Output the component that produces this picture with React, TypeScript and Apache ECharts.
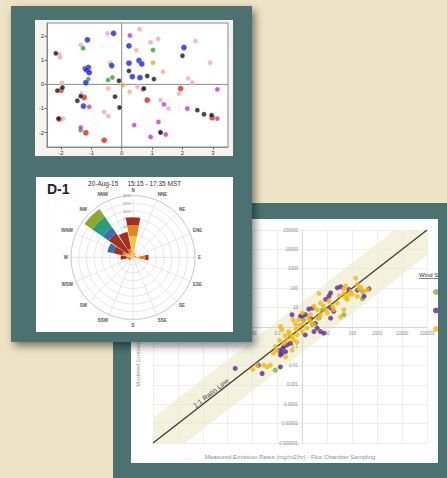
import { useEffect, useRef } from "react";
import * as echarts from "echarts";

const FONT = "'Liberation Sans', Arial, sans-serif";
const TEAL = "#4b7270";
const BEIGE = "#efe3c6";

// ---------- Panel 1: ordination scatter ----------
const pcaXTicks = [-2, -1, 0, 1, 2, 3];
const pcaYTicks = [-2, -1, 0, 1, 2];
const pcaXRange = [-2.46, 3.5];
const pcaYRange = [-2.6, 2.55];

const pcaBlue = [[-0.27, 2.12], [-1.13, 1.85], [0.24, 1.6], [2.05, 1.53], [-1.2, 0.65], [-1.1, 0.7], [-1.15, 0.6], [-1.07, 0.49], [0.24, 0.88], [0.57, 0.99], [0.66, 0.85], [-0.33, 0.78], [0.35, 0.32], [0.6, 0.28], [-1.18, 0.07], [-1.26, -0.9]];
const pcaBlack = [[-2.17, 1.29], [2.0, 1.19], [1.06, 0.22], [0.84, 0.35], [0.24, 0.56], [-0.09, 0.15], [-2.12, -0.26], [-1.95, -0.13], [-1.46, -0.68], [-1.35, -0.49], [-0.22, -0.51], [-0.07, -0.96], [0.73, -0.17], [1.28, -2.0], [2.49, -1.07], [2.71, -1.24], [2.96, -1.28], [-2.08, -1.42]];
const pcaRed = [[-2.0, -0.24], [-1.24, -0.54], [0.84, -0.65], [1.94, -0.17], [2.98, -1.38], [-2.06, -1.44], [-1.18, -2.01], [-0.58, -2.32]];
const pcaPink = [[-0.47, 2.12], [0.59, 2.29], [-1.35, 1.64], [-2.06, 1.25], [-2.03, 1.12], [0.95, 1.75], [1.2, 1.89], [2.43, 1.8], [0.48, 1.43], [-0.38, 0.9], [1.36, 0.53], [2.19, 0.25], [2.32, 0.08], [2.91, 0.9], [-1.97, 0.07], [-0.44, -0.17], [0.26, -0.31], [0.52, -0.1], [-1.32, -0.38], [-0.58, -1.14], [-0.44, -1.32], [-1.93, -1.42], [1.89, -0.38], [1.54, -1.0], [1.28, -0.65]];
const pcaMagenta = [[0.27, 2.03], [-1.07, -0.93], [-1.35, -1.79], [0.41, -1.69], [0.95, -2.18], [1.21, -1.56], [1.39, -0.83], [1.45, -2.08], [2.16, -1.0], [3.15, -0.21], [3.15, -1.42], [1.27, -1.97], [0.7, -0.21]];
const pcaGreen = [[-1.27, 1.5], [1.03, 1.43], [-0.45, 0.18], [-0.31, 0.29], [-1.1, 0.22], [-1.35, -1.9]];
const pcaOrange = [[1.03, 0.9], [0.04, -0.03]];

// ---------- Panel 2: wind rose ----------
const roseTitle = "D-1";
const roseSubtitle = "20-Aug-15     15:15 - 17:35 MST";
const directions = ["N", "NNE", "NE", "ENE", "E", "ESE", "SE", "SSE", "S", "SSW", "SW", "WSW", "W", "WNW", "NW", "NNW"];
const directionAngles = [0, 22.5, 45, 67.5, 90, 112.5, 135, 157.5, 180, 202.5, 225, 247.5, 270, 292.5, 315, 337.5];
const speedClasses = ["0.5-1.5 m/s", "1.5-2.5 m/s", "2.5-3.5 m/s", "3.5-4.5 m/s", "4.5-5.5 m/s", ">5.5 m/s"];
const windYellow = [14, 2, 1, 1, 4, 0.5, 0, 0, 0.5, 0, 0, 1, 2, 5, 2, 3];
const windOrange = [7, 1, 0.5, 1, 4, 0, 0, 0, 0.5, 0, 0, 1, 2, 2, 2, 3];
const windRed = [5, 0, 0, 0, 2, 0, 0, 0, 0, 0, 0, 1, 4, 6, 15, 11];
const windBlue = [0, 0, 0, 0, 0, 0, 0, 0, 0, 0, 0, 0, 0, 4, 5, 0];
const windTeal = [0, 0, 0, 0, 0, 0, 0, 0, 0, 0, 0, 0, 0, 0, 8, 0];
const windOlive = [0, 0, 0, 0, 0, 0, 0, 0, 0, 0, 0, 0, 0, 0, 6, 0];
const windColors = ["#f1c23e", "#e8811e", "#a3301f", "#3b6fb5", "#25a07b", "#8ea82c"];
const roseMax = 40;
const roseStep = 5;

// ---------- Panel 3: modeled vs measured (log-log) ----------
const logMin = 1e-6;
const logMax = 1e5;
const logDecades = [1e-6, 1e-5, 1e-4, 1e-3, 1e-2, 1e-1, 1, 10, 100, 1000, 10000, 100000];
const ratioLine = [[1e-6, 1e-6], [1e5, 1e5]];
const ratioBand = [[1e-6, 1e-6], [1e-6, 2e-5], [5e3, 1e5], [1e5, 1e5], [1e5, 5e3], [2e-5, 1e-6]];
const windSpeedGroups = ["< 2 m/s", "2 - 4 m/s", "> 4 m/s"];

const fluxGold = [[138, 330], [4.6, 52], [46, 91], [87, 69], [186, 91], [295, 69], [405, 85], [160, 38], [54, 31], [100, 47], [63, 26], [25, 17], [11.5, 21], [5.3, 17], [18, 7.7], [46, 7.7], [34, 3.2], [9.8, 5.1], [3.9, 2.8], [2.1, 4.2], [0.98, 5.1], [0.71, 2.3], [0.42, 2.3], [0.52, 1.4], [1.1, 1.5], [2.1, 1.9], [2.9, 1.3], [1.5, 0.85], [0.98, 0.57], [0.61, 0.38], [0.38, 0.32], [0.24, 0.21], [0.18, 0.14], [0.081, 0.095], [0.069, 0.043], [0.15, 0.69], [0.13, 1.04], [0.28, 0.57], [0.45, 0.21], [0.38, 0.063], [0.21, 0.028], [3.9, 7.7], [5.3, 4.2], [2.9, 11.5], [8.5, 7.7], [160, 155], [54, 126], [46, 52], [16, 11.5], [0.028, 0.0105], [0.038, 0.0085], [0.051, 0.0105], [0.015, 0.0105], [0.01, 0.0063], [0.3, 0.45], [0.55, 0.75], [0.8, 1.2], [1.8, 2.6], [0.2, 0.35], [0.12, 0.2], [7, 12], [30, 40], [70, 45], [220, 110], [0.6, 0.16], [0.09, 0.06]];
const fluxPurple = [[34, 117], [25, 103], [13.5, 56], [11.5, 38], [8.5, 26], [2.5, 9.3], [1.8, 8.3], [1.3, 4.2], [0.98, 3.7], [0.83, 3.5], [0.38, 4.2], [2.1, 2.8], [3.3, 1.5], [3.9, 0.85], [5.3, 0.57], [7.2, 0.47], [2.9, 0.57], [1.3, 0.38], [13.5, 9.3], [18, 6.3], [74, 85], [160, 78], [470, 91], [295, 38], [0.18, 0.095], [0.15, 0.043], [0.21, 0.052], [0.24, 0.115], [0.33, 0.14], [0.13, 0.035], [0.024, 0.0039], [0.017, 0.0105], [0.13, 0.0085], [0.002, 0.0071], [13.5, 2.8], [0.12, 0.06], [0.16, 0.075]];
const fluxGreen = [[255, 69], [255, 27.5], [6.2, 7.1], [1.1, 2.3], [2.5, 1.3], [0.33, 0.32], [0.081, 0.0058], [46, 4.2], [4.6, 2.8]];

function logLabel(v: number) {
  const e = Math.round(Math.log10(v));
  return e >= 0 ? String(Math.pow(10, e)) : Math.pow(10, e).toFixed(-e);
}

export default function App() {
  const ref = useRef<HTMLDivElement>(null);

  useEffect(() => {
    if (!ref.current) return;
    const chart = echarts.init(ref.current, undefined, { renderer: "svg" });

    const pcaSeries = (name: string, data: number[][], color: string, size = 5) => ({
      name,
      type: "scatter",
      xAxisIndex: 0,
      yAxisIndex: 0,
      data,
      symbolSize: size,
      itemStyle: { color, borderColor: "rgba(255,255,255,0.7)", borderWidth: 0.6 },
      z: 14,
      silent: true,
    });

    const roseSeries = [windYellow, windOrange, windRed, windBlue, windTeal, windOlive].map((d, i) => ({
      name: speedClasses[i],
      type: "bar",
      coordinateSystem: "polar",
      polarIndex: 1,
      stack: "wind",
      data: d,
      barCategoryGap: "8%",
      itemStyle: { color: windColors[i] },
      z: 13,
      silent: true,
    }));

    const logAxisCommon = {
      type: "log", logBase: 10, min: logMin, max: logMax, z: 4,
      axisLine: { show: true, onZero: false, lineStyle: { color: "#d6d6d6" } },
      axisTick: { show: false, customValues: logDecades },
      axisLabel: { fontSize: 4.5, color: "#8c8c8c", margin: 4, formatter: logLabel, customValues: logDecades },
      splitLine: { show: true, lineStyle: { color: "#e8e8e8", width: 0.8 } },
    };

    const option: any = {
      animation: false,
      backgroundColor: BEIGE,
      textStyle: { fontFamily: FONT },
      legend: {
        orient: "vertical",
        left: 433,
        top: 289,
        itemWidth: 6,
        itemHeight: 6,
        itemGap: 12.5,
        icon: "circle",
        padding: 0,
        selectedMode: false,
        data: windSpeedGroups,
        formatter: () => "",
        textStyle: { fontSize: 6, lineHeight: 6, color: "#555" },
        z: 6,
      },
      grid: [
        { left: 47, top: 23, width: 181, height: 124, show: true, backgroundColor: "#ffffff", borderColor: "#8a8a8a", borderWidth: 1, z: 12 },
        { left: 153, top: 230, width: 274, height: 213, show: false },
      ],
      xAxis: [
        {
          gridIndex: 0, type: "value", min: pcaXRange[0], max: pcaXRange[1], z: 13,
          axisLine: { show: true, onZero: false, lineStyle: { color: "#8a8a8a" } },
          axisTick: { show: true, length: 2.5, customValues: pcaXTicks, lineStyle: { color: "#666" } },
          axisLabel: { fontSize: 6, color: "#333", margin: 3, customValues: pcaXTicks },
          splitLine: { show: false },
        },
        { gridIndex: 1, position: "bottom", offset: -116, ...logAxisCommon },
      ],
      yAxis: [
        {
          gridIndex: 0, type: "value", min: pcaYRange[0], max: pcaYRange[1], z: 13,
          axisLine: { show: true, onZero: false, lineStyle: { color: "#8a8a8a" } },
          axisTick: { show: true, length: 2.5, customValues: pcaYTicks, lineStyle: { color: "#666" } },
          axisLabel: { fontSize: 6, color: "#333", margin: 3, customValues: pcaYTicks },
          splitLine: { show: false },
        },
        { gridIndex: 1, position: "left", offset: -149, ...logAxisCommon },
      ],
      polar: [
        { center: [133, 257.5], radius: 62 },
        { center: [133, 257.5], radius: 62 },
      ],
      angleAxis: [
        {
          polarIndex: 0, type: "value", min: 0, max: 360, interval: 22.5, startAngle: 90, clockwise: true, z: 12,
          axisLine: { show: true, lineStyle: { color: "#cfcfcf", width: 1 } },
          axisTick: { show: false },
          axisLabel: {
            fontSize: 4.5, fontWeight: "bold", color: "#555", margin: 3,
            formatter: (v: number) => {
              const i = directionAngles.indexOf(v);
              return i >= 0 ? directions[i] : "";
            },
          },
          splitLine: { show: true, lineStyle: { color: "#e0e0e0", width: 0.8 } },
        },
        {
          polarIndex: 1, type: "category", data: directions, startAngle: 101.25, clockwise: true, z: 12,
          axisLine: { show: false }, axisTick: { show: false }, axisLabel: { show: false }, splitLine: { show: false },
        },
      ],
      radiusAxis: [
        {
          polarIndex: 0, type: "value", min: 0, max: roseMax, interval: roseStep, z: 12,
          axisLine: { show: false }, axisTick: { show: false },
          axisLabel: { fontSize: 4, color: "#888", margin: 2, formatter: (v: number) => (v === 0 ? "" : v + "%") },
          splitLine: { show: true, lineStyle: { color: "#e0e0e0", width: 0.8 } },
        },
        {
          polarIndex: 1, type: "value", min: 0, max: roseMax, z: 12,
          axisLine: { show: false }, axisTick: { show: false }, axisLabel: { show: false }, splitLine: { show: false },
        },
      ],
      series: [
        {
          type: "line", xAxisIndex: 0, yAxisIndex: 0, data: [[0, pcaYRange[0]], [0, pcaYRange[1]]],
          symbol: "none", lineStyle: { color: "#8a8a8a", width: 1 }, z: 13, silent: true,
        },
        {
          type: "line", xAxisIndex: 0, yAxisIndex: 0, data: [[pcaXRange[0], 0], [pcaXRange[1], 0]],
          symbol: "none", lineStyle: { color: "#8a8a8a", width: 1 }, z: 13, silent: true,
        },
        pcaSeries("pink", pcaPink, "#f2a7ae", 5),
        pcaSeries("green", pcaGreen, "#2f9e35"),
        pcaSeries("orange", pcaOrange, "#f0a22a"),
        pcaSeries("blue", pcaBlue, "#1f24d8", 6),
        pcaSeries("magenta", pcaMagenta, "#c530d8"),
        pcaSeries("red", pcaRed, "#dd2424", 6),
        pcaSeries("black", pcaBlack, "#151515"),
        ...roseSeries,
        {
          type: "custom", xAxisIndex: 1, yAxisIndex: 1, data: ratioBand, z: 3, silent: true,
          renderItem: (params: any, api: any) =>
            params.dataIndex === 0
              ? { type: "polygon", shape: { points: ratioBand.map((p) => api.coord(p)) }, style: { fill: "#f4f2dc" } }
              : null,
        },
        {
          type: "line", xAxisIndex: 1, yAxisIndex: 1, data: ratioLine, symbol: "none",
          lineStyle: { color: "#3c3c34", width: 1.3 }, z: 5, silent: true,
        },
        {
          name: windSpeedGroups[0], type: "scatter", xAxisIndex: 1, yAxisIndex: 1, data: fluxGreen,
          symbolSize: 5, itemStyle: { color: "#7cb342" }, z: 6, silent: true,
        },
        {
          name: windSpeedGroups[1], type: "scatter", xAxisIndex: 1, yAxisIndex: 1, data: fluxPurple,
          symbolSize: 5, itemStyle: { color: "#5b2a8e" }, z: 6, silent: true,
        },
        {
          name: windSpeedGroups[2], type: "scatter", xAxisIndex: 1, yAxisIndex: 1, data: fluxGold,
          symbolSize: 5, itemStyle: { color: "#f5b70f" }, z: 6, silent: true,
        },
      ],
      graphic: [
        { type: "rect", shape: { x: 113, y: 203, width: 340, height: 280 }, style: { fill: TEAL }, z: 1, silent: true },
        { type: "rect", shape: { x: 131, y: 219, width: 307, height: 244 }, style: { fill: "#ffffff" }, z: 2, silent: true },
        {
          type: "text", x: 138, y: 338, rotation: Math.PI / 2, z: 6, silent: true,
          style: { text: "Modeled Emission Rates (mg/m2/hr)", fill: "#9a9a9a", fontSize: 6, fontFamily: FONT, align: "center", verticalAlign: "middle" },
        },
        {
          type: "text", x: 290, y: 457, z: 6, silent: true,
          style: { text: "Measured Emission Rates (mg/m2/hr) - Flux Chamber Sampling", fill: "#8c8c8c", fontSize: 6, fontFamily: FONT, align: "center", verticalAlign: "middle" },
        },
        {
          type: "text", x: 211, y: 393, rotation: Math.atan(19.4 / 24.9), z: 6, silent: true,
          style: { text: "1:1 Ratio Line", fill: "#444", fontSize: 7, fontFamily: FONT, align: "center", verticalAlign: "middle" },
        },
        {
          type: "text", x: 419, y: 275, z: 6, silent: true,
          style: { text: "Wind Speed", fill: "#333", fontSize: 6, fontFamily: FONT, align: "left", verticalAlign: "middle" },
        },
        { type: "line", shape: { x1: 419, y1: 278.5, x2: 440, y2: 278.5 }, style: { stroke: "#333", lineWidth: 0.6 }, z: 6, silent: true },
        { type: "rect", shape: { x: 438, y: 203, width: 12, height: 280 }, style: { fill: TEAL }, z: 7, silent: true },
        {
          type: "rect", shape: { x: 11, y: 6, width: 241, height: 336 }, z: 10, silent: true,
          style: { fill: TEAL, shadowBlur: 8, shadowColor: "rgba(0,0,0,0.5)", shadowOffsetX: 3, shadowOffsetY: 4 },
        },
        { type: "rect", shape: { x: 35, y: 20, width: 198, height: 136 }, style: { fill: "#f6f4ef" }, z: 11, silent: true },
        { type: "rect", shape: { x: 36, y: 177, width: 197, height: 155 }, style: { fill: "#ffffff" }, z: 11, silent: true },
        {
          type: "text", x: 47, y: 189, z: 14, silent: true,
          style: { text: roseTitle, fill: "#222", fontSize: 14, fontWeight: "bold", fontFamily: FONT, align: "left", verticalAlign: "middle" },
        },
        {
          type: "text", x: 88, y: 183, z: 14, silent: true,
          style: { text: roseSubtitle, fill: "#333", fontSize: 6.5, fontFamily: FONT, align: "left", verticalAlign: "middle" },
        },
      ],
    };

    chart.setOption(option);
    return () => chart.dispose();
  }, []);

  return <div ref={ref} style={{ position: "fixed", left: 0, top: 0, width: 447, height: 478 }} />;
}
